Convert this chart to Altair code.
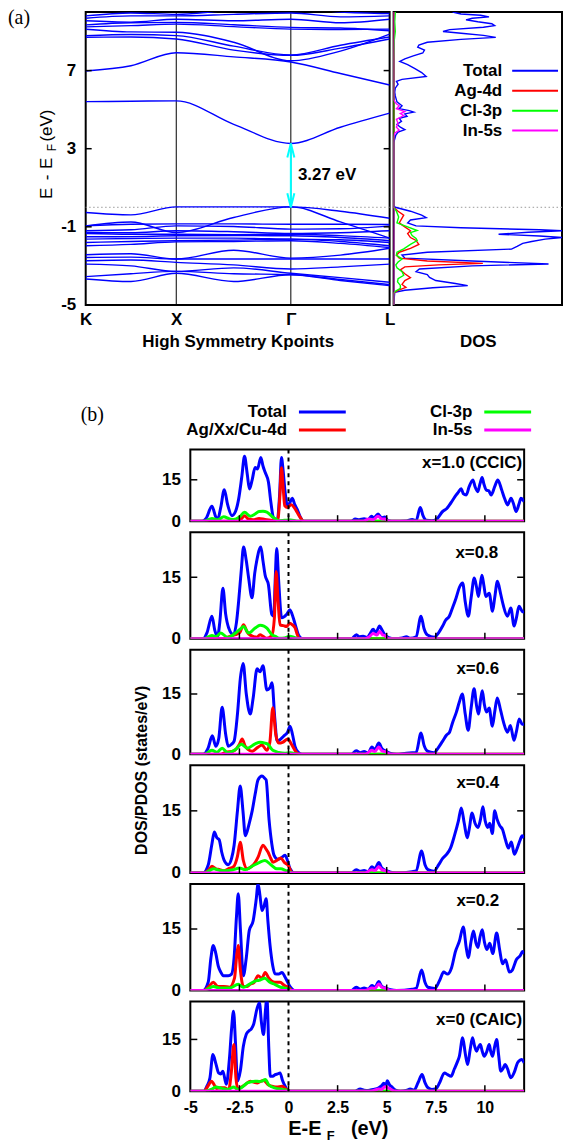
import altair as alt
import pandas as pd

# ---------------- styling ----------------
SANS = "Liberation Sans"
SERIF = "Liberation Serif"
BLUE = "#0000ff"
RED = "#ff0000"
GREEN = "#00ff00"
MAGENTA = "#ff00ff"
CYAN = "#00ffff"

# ---------------- (a) band structure ----------------
# sample positions along K-X-Gamma-L (high-symmetry points and segment midpoints)
KPATH = [0.0, 0.149, 0.298, 0.487, 0.675, 0.838, 1.0]
KPOINT_POS = [0.0, 0.298, 0.675, 1.0]
KPOINT_LABELS = ["K", "X", "Γ", "L"]
YTICKS_A = [7, 3, -1, -5]
GAP_EV = 3.27

CONDUCTION_BANDS = [
    [5.41, 5.43, 5.45, 4.25, 3.27, 4.10, 4.82],
    [6.98, 7.25, 7.91, 7.70, 7.44, 6.85, 6.26],
    [8.71, 8.72, 8.62, 8.05, 7.78, 8.15, 8.62],
    [8.79, 8.85, 8.79, 8.25, 7.80, 8.30, 8.72],
    [9.12, 8.98, 8.96, 8.45, 7.50, 8.00, 8.87],
    [9.24, 9.30, 9.38, 9.25, 9.12, 9.10, 9.12],
    [9.34, 9.45, 9.46, 9.35, 9.21, 9.18, 9.04],
    [9.55, 9.48, 9.63, 9.55, 9.63, 9.45, 9.63],
    [9.68, 9.80, 9.80, 9.88, 9.95, 9.75, 9.80],
    [9.80, 9.95, 9.88, 10.1, 10.2, 10.0, 9.92],
]
VALENCE_BANDS = [
    [-0.27, -0.39, 0.02, 0.02, 0.02, -0.20, -0.56],
    [-0.95, -0.75, -1.29, -0.52, 0.02, -0.75, -1.58],
    [-0.95, -0.87, -0.85, -0.85, -0.87, -0.87, -0.88],
    [-1.20, -1.15, -0.95, -0.98, -1.12, -1.10, -0.95],
    [-1.29, -1.30, -1.20, -1.25, -1.34, -1.30, -1.20],
    [-1.34, -1.38, -1.38, -1.40, -1.38, -1.45, -1.58],
    [-1.51, -1.50, -1.46, -1.45, -1.46, -1.55, -1.71],
    [-1.63, -1.60, -1.58, -1.58, -1.63, -1.66, -1.80],
    [-1.80, -1.75, -1.71, -1.68, -1.63, -1.75, -1.97],
    [-1.97, -1.90, -1.77, -1.75, -1.71, -1.85, -2.06],
    [-2.43, -2.38, -2.65, -2.20, -2.60, -2.45, -2.10],
    [-2.57, -2.55, -2.65, -2.65, -2.65, -2.65, -2.65],
    [-2.74, -2.70, -2.82, -2.95, -3.16, -3.05, -2.91],
    [-2.91, -3.00, -3.28, -3.10, -3.38, -3.60, -3.84],
    [-3.55, -3.40, -3.28, -3.40, -3.45, -3.70, -3.96],
    [-3.67, -3.80, -3.38, -3.80, -3.45, -3.75, -4.01],
]

# ---------------- (a) density of states: (energy, DOS) ----------------
DOS_A_TOTAL = [
    (10.0, 10.5), (9.9, 12.0), (9.83, 15.5), (9.75, 17.0), (9.68, 14.0), (9.6, 12.9),
    (9.5, 15.0), (9.4, 17.5), (9.3, 18.0), (9.22, 16.0), (9.1, 10.0), (9.0, 8.8),
    (8.9, 12.5), (8.8, 16.0), (8.7, 18.2), (8.6, 12.0), (8.45, 6.0), (8.3, 4.5),
    (8.2, 4.3), (8.05, 5.5), (7.9, 5.2), (7.75, 3.5), (7.6, 2.0), (7.47, 1.1),
    (7.3, 2.5), (7.1, 3.8), (6.9, 5.0), (6.7, 5.8), (6.55, 1.5), (6.45, 0.5),
    (6.3, 0.8), (6.1, 0.3), (5.9, 0.2), (5.7, 0.3), (5.4, 0.6), (5.2, 1.5),
    (5.05, 1.0), (4.95, 2.8), (4.87, 3.6), (4.78, 2.0), (4.66, 2.4), (4.55, 1.0),
    (4.4, 1.4), (4.25, 0.6), (4.1, 1.2), (3.98, 2.0), (3.85, 0.8), (3.7, 0.4),
    (3.5, 0.2), (3.3, 0.0), (0.1, 0.0), (0.0, 0.3), (-0.2, 3.0), (-0.4, 5.0),
    (-0.53, 5.8), (-0.65, 3.0), (-0.8, 2.5), (-0.95, 4.0), (-1.05, 12.0), (-1.15, 26.0),
    (-1.2, 30.0), (-1.28, 24.0), (-1.38, 18.7), (-1.47, 26.0), (-1.55, 30.0), (-1.63, 27.0),
    (-1.75, 24.6), (-1.85, 23.0), (-2.0, 22.0), (-2.14, 21.0), (-2.3, 6.0), (-2.45, 1.5),
    (-2.6, 2.0), (-2.75, 14.0), (-2.9, 27.6), (-3.0, 14.0), (-3.16, 4.6), (-3.3, 4.0),
    (-3.45, 6.0), (-3.59, 6.4), (-3.75, 7.5), (-3.9, 11.0), (-4.01, 13.2), (-4.12, 7.0),
    (-4.25, 2.0), (-4.35, 0.2), (-5.0, 0.0),
]
DOS_A_AG4D = [
    (10.0, 0.0), (0.0, 0.0), (-0.2, 0.8), (-0.4, 1.8), (-0.55, 1.5), (-0.8, 1.0),
    (-1.0, 2.0), (-1.2, 3.0), (-1.35, 2.5), (-1.55, 3.0), (-1.7, 4.0), (-1.9, 4.5),
    (-2.1, 3.0), (-2.3, 1.0), (-2.45, 0.5), (-2.6, 1.0), (-2.75, 6.0), (-2.87, 15.9),
    (-2.95, 8.0), (-3.05, 2.0), (-3.2, 1.2), (-3.4, 2.0), (-3.6, 3.0), (-3.75, 2.0),
    (-3.95, 1.5), (-4.1, 2.2), (-4.25, 0.8), (-4.4, 0.0), (-5.0, 0.0),
]
DOS_A_CL3P = [
    (10.0, 0.3), (9.5, 0.2), (9.0, 0.3), (8.5, 0.1), (7.5, 0.0), (0.0, 0.0),
    (-0.2, 0.5), (-0.5, 0.9), (-0.8, 0.6), (-1.0, 2.5), (-1.19, 4.2), (-1.3, 3.0),
    (-1.45, 3.3), (-1.6, 4.0), (-1.7, 4.2), (-1.9, 3.0), (-2.13, 1.8), (-2.3, 0.6),
    (-2.45, 0.5), (-2.65, 1.5), (-2.8, 0.8), (-2.95, 0.4), (-3.1, 0.6), (-3.3, 1.5),
    (-3.48, 1.8), (-3.65, 0.8), (-3.82, 0.7), (-4.0, 1.2), (-4.15, 1.2), (-4.3, 0.3),
    (-4.4, 0.0), (-5.0, 0.0),
]
DOS_A_IN5S = [
    (10.0, 0.0), (5.5, 0.0), (5.3, 0.5), (5.2, 1.0), (5.05, 0.5), (4.9, 2.0),
    (4.8, 1.2), (4.7, 1.8), (4.5, 0.5), (4.3, 0.8), (4.1, 0.5), (3.95, 1.0),
    (3.8, 0.2), (3.6, 0.0), (-5.0, 0.0),
]
LEGEND_A = ["Total", "Ag-4d", "Cl-3p", "In-5s"]

# ---------------- (b) projected DOS for each composition: (energy, states/eV) ----------------
PANEL_LABELS = ["x=1.0 (CCIC)", "x=0.8", "x=0.6", "x=0.4", "x=0.2", "x=0 (CAIC)"]
LEGEND_B = ["Total", "Ag/Xx/Cu-4d", "Cl-3p", "In-5s"]
XTICKS_B = [-5, -2.5, 0, 2.5, 5, 7.5, 10]
YTICKS_B = [0, 15]

TOTAL_X10 = [
    (-5, 0), (-4.4, 0), (-4.2, 1.0), (-3.9, 5.4), (-3.7, 1.5), (-3.6, 0.8), (-3.45, 5), (-3.27, 11.4),
    (-3.1, 6), (-2.88, 2.0), (-2.7, 3.5), (-2.54, 8.0), (-2.38, 16), (-2.24, 23.5), (-2.1, 17),
    (-1.99, 11.7), (-1.85, 15), (-1.70, 19.5), (-1.58, 18.9), (-1.41, 23.1), (-1.3, 20), (-1.19, 17.7),
    (-1.02, 14.1), (-0.9, 7), (-0.77, 1.4), (-0.57, 0.5), (-0.45, 10), (-0.36, 23.1), (-0.27, 18),
    (-0.19, 11.7), (-0.05, 5.5), (0.05, 6.5), (0.19, 8.3), (0.32, 6), (0.45, 4.2), (0.6, 1.5), (0.76, 0),
    (3.2, 0), (3.4, 0.8), (3.6, 0.5), (3.85, 0.9), (4.05, 0.5), (4.22, 1.8), (4.35, 1.2), (4.56, 2.6),
    (4.75, 1.2), (4.9, 1.5), (5.07, 0.2), (5.4, 0), (6.0, 0.1), (6.3, 0.6), (6.5, 0.2), (6.71, 5.0),
    (6.85, 2.0), (7.02, 0.3), (7.3, 0.2), (7.52, 0.6), (7.86, 3.6), (8.05, 4.5), (8.2, 5.9), (8.35, 7.5),
    (8.54, 9.5), (8.65, 10.5), (8.79, 11.8), (8.9, 10), (9.05, 9.5), (9.2, 12.5), (9.39, 14.9),
    (9.5, 12.5), (9.64, 10.7), (9.75, 13.5), (9.86, 15.8), (9.95, 13.5), (10.07, 11.3), (10.2, 11.0),
    (10.32, 9.5), (10.5, 12.5), (10.66, 14.9), (10.85, 11.5), (11.0, 8.3), (11.16, 5.9), (11.33, 8.3),
    (11.45, 6.5), (11.59, 3.5), (11.75, 6.5), (11.84, 8.3), (12.0, 7.1),
]
D4_X10 = [
    (-5, 0), (-2.6, 0), (-2.4, 0.8), (-2.24, 2.0), (-2.05, 0.8), (-1.8, 0.5), (-1.5, 1.0), (-1.2, 0.6),
    (-0.75, 0.2), (-0.55, 0.3), (-0.45, 8), (-0.36, 19.4), (-0.27, 12), (-0.19, 5.6), (-0.05, 5.0),
    (0.14, 6.0), (0.3, 4.8), (0.48, 2.7), (0.65, 0.8), (0.76, 0), (12, 0),
]
CL3P_X10 = [
    (-5, 0), (-4.3, 0), (-3.9, 1.0), (-3.6, 0.5), (-3.3, 1.6), (-3.0, 0.8), (-2.8, 0.6), (-2.5, 1.5),
    (-2.24, 3.2), (-1.95, 1.8), (-1.7, 2.6), (-1.5, 3.5), (-1.3, 3.6), (-1.1, 3.3), (-0.77, 1.3),
    (-0.5, 0.2), (-0.2, 0.3), (0.1, 0.4), (0.4, 0.1), (0.8, 0), (12, 0),
]
IN5S_X10 = [(-5, 0), (3.8, 0), (4.1, 0.8), (4.3, 0.5), (4.56, 1.8), (4.75, 0.8), (4.9, 0.8), (5.1, 0), (12, 0)]

TOTAL_X08 = [
    (-5, 0), (-4.35, 0), (-4.15, 1.5), (-3.90, 5.5), (-3.75, 2.0), (-3.61, 0.6), (-3.5, 4), (-3.34, 12.3),
    (-3.2, 6), (-3.05, 2.7), (-2.8, 1.0), (-2.65, 4), (-2.54, 9.1), (-2.4, 17), (-2.29, 22.4), (-2.15, 19),
    (-2.03, 14.8), (-1.86, 10), (-1.72, 16), (-1.61, 19.2), (-1.41, 22.4), (-1.3, 19), (-1.19, 15.5),
    (-1.02, 13.1), (-0.85, 5.9), (-0.75, 5.5), (-0.68, 14), (-0.60, 22.0), (-0.5, 14), (-0.35, 5.1),
    (-0.10, 5.9), (0.07, 7.1), (0.24, 5.1), (0.4, 2.5), (0.5, 1.0), (0.7, 0), (3.2, 0), (3.46, 1.0),
    (3.6, 0.5), (3.8, 0.6), (4.0, 0.3), (4.15, 1.2), (4.31, 2.3), (4.45, 1.5), (4.64, 3.1), (4.78, 2.0),
    (4.9, 1.0), (5.1, 0.3), (5.4, 0), (5.8, 0.2), (6.0, 0.5), (6.2, 0.1), (6.5, 0.5), (6.75, 5.5),
    (6.9, 2.5), (7.08, 0.9), (7.43, 0.4), (7.65, 1.5), (7.85, 3.1), (8.0, 4.5), (8.19, 5.5), (8.35, 7.5),
    (8.53, 9.9), (8.7, 12.5), (8.87, 13.6), (9.0, 9), (9.16, 5.5), (9.3, 10), (9.46, 14.8), (9.58, 12.5),
    (9.67, 10.3), (9.76, 13), (9.85, 15.5), (9.95, 13), (10.05, 10.3), (10.22, 11.1), (10.39, 6.7),
    (10.5, 10), (10.64, 14.0), (10.8, 11), (10.93, 8.3), (11.15, 5.5), (11.32, 7.5), (11.49, 3.1),
    (11.6, 5), (11.74, 7.9), (11.9, 6.7), (12.0, 6.5),
]
D4_X08 = [
    (-5, 0), (-3.3, 0), (-3.0, 0.6), (-2.7, 1.0), (-2.47, 1.6), (-2.29, 3.4), (-2.1, 1.6), (-2.03, 1.2),
    (-1.8, 0.6), (-1.61, 0.4), (-1.45, 1.0), (-1.3, 0.6), (-1.1, 0.1), (-0.85, 0.8), (-0.72, 5),
    (-0.63, 16.4), (-0.53, 9), (-0.43, 3.4), (-0.25, 3.2), (-0.1, 3.0), (0.07, 3.8), (0.2, 3.4),
    (0.33, 2.7), (0.45, 1.0), (0.55, 0), (12, 0),
]
CL3P_X08 = [
    (-5, 0), (-4.3, 0), (-3.9, 0.8), (-3.7, 0.5), (-3.45, 1.4), (-3.1, 0.3), (-2.7, 1.4), (-2.45, 2.4),
    (-2.29, 3.0), (-2.03, 1.4), (-1.7, 2.6), (-1.45, 3.3), (-1.25, 3.1), (-1.1, 2.6), (-0.85, 1.0),
    (-0.67, 0.6), (-0.45, 0.1), (-0.2, 0.2), (0.07, 0.6), (0.3, 0.3), (0.6, 0), (12, 0),
]
IN5S_X08 = [(-5, 0), (3.9, 0), (4.1, 0.4), (4.31, 1.3), (4.5, 0.9), (4.64, 1.8), (4.78, 1.0), (4.9, 0.8), (5.1, 0), (12, 0)]

TOTAL_X06 = [
    (-5, 0), (-4.35, 0), (-4.1, 1.5), (-3.88, 4.6), (-3.7, 2), (-3.55, 4), (-3.38, 11.7), (-3.2, 5),
    (-3.07, 2.0), (-2.9, 2.5), (-2.77, 3.3), (-2.6, 10), (-2.45, 19), (-2.31, 22.6), (-2.15, 15),
    (-1.95, 10), (-1.8, 14), (-1.6, 21.3), (-1.45, 20.5), (-1.3, 22), (-1.1, 16), (-0.95, 16.5),
    (-0.84, 17.8), (-0.7, 9), (-0.58, 3.3), (-0.4, 3.8), (-0.23, 4.6), (-0.05, 5.5), (0.08, 7), (0.2, 5),
    (0.33, 2.0), (0.5, 0.5), (0.7, 0), (3.2, 0), (3.45, 0.9), (3.65, 0.4), (3.85, 0.7), (4.05, 0.3),
    (4.25, 1.8), (4.4, 1.2), (4.6, 2.8), (4.75, 1.5), (4.95, 0.8), (5.2, 0.2), (5.5, 0), (6.0, 0.3),
    (6.3, 0.4), (6.5, 0.5), (6.75, 5.3), (6.9, 2.3), (7.08, 0.8), (7.4, 0.4), (7.65, 1.8), (7.85, 3.3),
    (8.05, 4.8), (8.2, 5.5), (8.35, 7.8), (8.55, 10.5), (8.7, 13), (8.85, 15.0), (9.0, 10), (9.15, 6),
    (9.3, 11.5), (9.45, 16.3), (9.58, 12), (9.68, 10), (9.78, 13.5), (9.87, 15.8), (9.97, 12.5),
    (10.08, 10.5), (10.22, 11.5), (10.38, 7), (10.5, 10.5), (10.63, 14), (10.8, 11), (10.95, 8),
    (11.15, 5.5), (11.3, 7.2), (11.48, 3.5), (11.6, 5.5), (11.75, 8.8), (11.9, 7.5), (12.0, 7.5),
]
D4_X06 = [
    (-5, 0), (-3.5, 0), (-3.2, 0.5), (-2.8, 0.8), (-2.5, 2.5), (-2.36, 3.8), (-2.2, 2.0), (-1.85, 0.8),
    (-1.55, 1.8), (-1.35, 2.3), (-1.1, 1.0), (-0.95, 3), (-0.8, 11.6), (-0.65, 5), (-0.5, 2.8),
    (-0.3, 3.0), (-0.03, 3.8), (0.15, 2.5), (0.4, 0.5), (0.55, 0), (12, 0),
]
CL3P_X06 = [
    (-5, 0), (-4.3, 0), (-3.9, 1.0), (-3.65, 0.5), (-3.38, 1.5), (-3.1, 0.4), (-2.7, 1.2), (-2.4, 2.5),
    (-2.1, 1.5), (-1.7, 2.6), (-1.45, 3.0), (-1.2, 2.8), (-1.05, 2.5), (-0.8, 1.0), (-0.5, 0.5),
    (-0.2, 0.3), (0.1, 0.4), (0.4, 0.1), (0.6, 0), (12, 0),
]
IN5S_X06 = [(-5, 0), (3.9, 0), (4.25, 1.0), (4.4, 0.7), (4.6, 1.8), (4.75, 0.9), (4.95, 0.6), (5.2, 0), (12, 0)]

TOTAL_X04 = [
    (-5, 0), (-4.35, 0), (-4.09, 1.9), (-3.9, 7), (-3.78, 9.9), (-3.65, 8.5), (-3.53, 8), (-3.4, 5),
    (-3.27, 3), (-3.07, 2), (-2.9, 3.5), (-2.77, 6.7), (-2.6, 15), (-2.46, 21), (-2.32, 15), (-2.2, 9),
    (-2.0, 12), (-1.85, 15), (-1.7, 19), (-1.55, 22.5), (-1.35, 23.4), (-1.2, 22.8), (-1.14, 22.5),
    (-0.99, 12.8), (-0.85, 7), (-0.74, 4.3), (-0.55, 3.3), (-0.38, 3.6), (-0.18, 4.3), (-0.05, 3),
    (0.08, 1.0), (0.3, 0), (3.2, 0), (3.45, 0.8), (3.65, 0.4), (3.85, 0.6), (4.05, 0.3), (4.25, 1.5),
    (4.4, 1.0), (4.6, 2.5), (4.75, 1.2), (4.95, 0.6), (5.2, 0.2), (5.5, 0), (6.3, 0.3), (6.5, 0.5),
    (6.78, 5.3), (6.95, 2.0), (7.1, 0.8), (7.4, 0.4), (7.65, 2.0), (7.85, 3.5), (8.05, 4.5), (8.25, 6.0),
    (8.45, 9), (8.65, 12.5), (8.8, 15.7), (8.95, 12), (9.1, 8.5), (9.2, 10.5), (9.35, 14.5), (9.5, 12),
    (9.65, 11), (9.78, 13), (9.9, 16), (10.02, 12.5), (10.15, 11), (10.25, 12), (10.38, 9.5),
    (10.5, 15), (10.62, 13), (10.75, 11.5), (10.9, 10.5), (11.05, 8), (11.2, 6), (11.35, 7.5),
    (11.5, 4.5), (11.65, 6), (11.8, 8), (11.9, 9), (12.0, 8.5),
]
D4_X04 = [
    (-5, 0), (-4.3, 0), (-4.05, 0.8), (-3.9, 1.6), (-3.7, 1.0), (-3.5, 0.8), (-3.3, 0.5), (-3.07, 1.0),
    (-2.8, 1.5), (-2.6, 4), (-2.46, 7.4), (-2.3, 3), (-2.1, 1.0), (-1.9, 1.5), (-1.7, 2.5), (-1.55, 3.8),
    (-1.3, 6.7), (-1.15, 5.8), (-1.04, 5.0), (-0.9, 3.5), (-0.79, 2.6), (-0.6, 3.0), (-0.4, 3.6),
    (-0.2, 2.5), (-0.03, 1.9), (0.2, 0), (12, 0),
]
CL3P_X04 = [
    (-5, 0), (-4.3, 0), (-3.8, 1.0), (-3.5, 0.6), (-3.2, 0.5), (-2.8, 0.8), (-2.5, 1.2), (-2.2, 0.8),
    (-1.9, 1.5), (-1.5, 2.5), (-1.2, 3.0), (-0.9, 2.0), (-0.6, 1.0), (-0.4, 1.0), (-0.1, 0.5), (0.2, 0), (12, 0),
]
IN5S_X04 = [(-5, 0), (3.9, 0), (4.25, 0.8), (4.4, 0.6), (4.6, 1.5), (4.75, 0.8), (4.95, 0.5), (5.2, 0), (12, 0)]

TOTAL_X02 = [
    (-5, 0), (-4.35, 0), (-4.09, 2), (-3.95, 8), (-3.83, 11), (-3.7, 9), (-3.58, 6), (-3.45, 4.5),
    (-3.32, 3.6), (-3.07, 3.6), (-2.9, 4), (-2.77, 8), (-2.65, 18), (-2.56, 23.6), (-2.45, 15), (-2.3, 3.6),
    (-2.15, 8), (-2.0, 14.6), (-1.8, 17), (-1.65, 22), (-1.55, 26), (-1.45, 23), (-1.35, 19.5),
    (-1.25, 20.5), (-1.14, 22.4), (-1.05, 17), (-0.94, 11), (-0.8, 6), (-0.69, 4.1), (-0.5, 4.0),
    (-0.33, 4.4), (-0.2, 3.5), (-0.08, 2.4), (0.1, 0.8), (0.3, 0), (3.2, 0), (3.45, 0.8), (3.65, 0.3),
    (3.85, 0.6), (4.05, 0.3), (4.25, 1.2), (4.4, 0.8), (4.6, 2.2), (4.75, 1.0), (4.95, 0.6), (5.2, 0.2),
    (5.5, 0), (6.3, 0.3), (6.5, 0.5), (6.78, 5.0), (6.95, 2.0), (7.1, 0.8), (7.45, 0.5), (7.7, 2.5),
    (7.9, 4.5), (8.1, 4.0), (8.3, 5.5), (8.5, 9.5), (8.7, 12), (8.9, 15.5), (9.05, 10.5), (9.15, 8),
    (9.3, 12), (9.42, 14.5), (9.55, 11.5), (9.65, 10.5), (9.75, 13), (9.87, 14.8), (9.97, 12),
    (10.1, 10), (10.25, 11.5), (10.4, 9), (10.6, 14), (10.75, 10), (10.9, 6.5), (11.05, 7.5),
    (11.25, 4.5), (11.4, 5), (11.6, 7.5), (11.8, 8.5), (11.92, 9.5), (12.0, 9),
]
D4_X02 = [
    (-5, 0), (-4.3, 0), (-4.05, 1.0), (-3.83, 2.0), (-3.6, 1.0), (-3.3, 1.0), (-3.0, 0.8), (-2.75, 3),
    (-2.65, 8), (-2.56, 11), (-2.45, 5), (-2.3, 1.0), (-2.1, 1.0), (-1.96, 1.5), (-1.75, 2.0),
    (-1.55, 3.6), (-1.35, 3.0), (-1.19, 4.4), (-1.0, 3.0), (-0.7, 2.0), (-0.43, 2.0), (-0.2, 1.2),
    (0.0, 0.8), (0.2, 0), (12, 0),
]
CL3P_X02 = [
    (-5, 0), (-4.3, 0), (-3.83, 1.0), (-3.5, 0.6), (-3.0, 0.6), (-2.56, 1.5), (-2.3, 0.8), (-2.0, 1.5),
    (-1.7, 2.3), (-1.5, 2.5), (-1.2, 3.0), (-0.95, 2.0), (-0.7, 1.5), (-0.4, 0.8), (-0.1, 0.5), (0.2, 0), (12, 0),
]
IN5S_X02 = [(-5, 0), (3.9, 0), (4.25, 0.6), (4.4, 0.5), (4.6, 1.6), (4.75, 0.8), (4.95, 0.5), (5.2, 0), (12, 0)]

TOTAL_X00 = [
    (-5, 0), (-4.32, 0), (-4.15, 1.5), (-4.0, 3.9), (-3.85, 10.6), (-3.7, 8), (-3.56, 5.3), (-3.45, 5),
    (-3.34, 5.8), (-3.17, 2.0), (-3.0, 10), (-2.9, 18), (-2.80, 23.2), (-2.7, 14), (-2.60, 2.9),
    (-2.45, 6), (-2.3, 13), (-2.15, 16.5), (-2.03, 17.4), (-1.9, 18), (-1.78, 19.3), (-1.6, 24),
    (-1.48, 25.6), (-1.38, 20), (-1.27, 16.4), (-1.18, 23), (-1.10, 27), (-1.0, 12), (-0.93, 4.3),
    (-0.8, 4.3), (-0.68, 4.8), (-0.55, 5.0), (-0.43, 5.3), (-0.3, 3), (-0.17, 1.4), (0.0, 0), (3.4, 0),
    (3.65, 0.6), (3.85, 0.3), (4.05, 0.2), (4.3, 0.5), (4.6, 1.0), (4.75, 1.6), (4.85, 2.3), (4.95, 1.5),
    (5.03, 3.0), (5.15, 1.8), (5.25, 1.3), (5.45, 0.3), (5.7, 0), (6.0, 0.2), (6.2, 0.6), (6.4, 0.3),
    (6.6, 2.5), (6.8, 4.8), (6.95, 2.5), (7.1, 1.0), (7.3, 0.5), (7.5, 0.7), (7.7, 2.5), (7.94, 5.3),
    (8.1, 4.8), (8.28, 4.3), (8.45, 6.5), (8.6, 8.5), (8.7, 10.1), (8.87, 15.5), (9.0, 11), (9.12, 7.7),
    (9.25, 12), (9.37, 15.5), (9.48, 13), (9.58, 11.6), (9.68, 12.8), (9.77, 13.5), (9.87, 11.5),
    (9.97, 10.1), (10.1, 11.5), (10.22, 13.5), (10.3, 11.5), (10.39, 10.1), (10.5, 13), (10.6, 15),
    (10.7, 10.5), (10.81, 5.8), (10.92, 6.5), (11.03, 7.7), (11.15, 6.5), (11.32, 3.9), (11.5, 5.5),
    (11.66, 8.2), (11.8, 9.0), (11.88, 9.2), (12.0, 8.2),
]
D4_X00 = [
    (-5, 0), (-4.3, 0), (-4.1, 1.5), (-3.92, 2.9), (-3.75, 1.5), (-3.66, 0.8), (-3.45, 1.0), (-3.24, 1.0),
    (-3.05, 0.3), (-2.92, 5), (-2.78, 13.5), (-2.68, 4), (-2.58, 0.6), (-2.4, 1.2), (-2.25, 1.7),
    (-1.95, 2.9), (-1.75, 2.6), (-1.6, 2.4), (-1.45, 2.8), (-1.27, 3.1), (-1.0, 1.7), (-0.75, 1.3),
    (-0.6, 1.2), (-0.33, 1.4), (-0.1, 0.5), (0.05, 0), (12, 0),
]
CL3P_X00 = [
    (-5, 0), (-4.3, 0), (-3.9, 0.6), (-3.7, 1.2), (-3.4, 0.8), (-3.1, 0.5), (-2.78, 1.2), (-2.6, 0.5),
    (-2.35, 1.2), (-2.1, 2.4), (-1.7, 2.9), (-1.5, 2.8), (-1.35, 2.9), (-1.18, 3.4), (-1.0, 1.8),
    (-0.68, 0.9), (-0.33, 0.5), (-0.05, 0.2), (0.1, 0), (12, 0),
]
IN5S_X00 = [(-5, 0), (4.2, 0), (4.45, 0.4), (4.6, 0.6), (4.75, 0.5), (4.9, 1.3), (5.05, 1.0), (5.2, 0.6), (5.4, 0), (12, 0)]

PANEL_SERIES = [
    (TOTAL_X10, D4_X10, CL3P_X10, IN5S_X10),
    (TOTAL_X08, D4_X08, CL3P_X08, IN5S_X08),
    (TOTAL_X06, D4_X06, CL3P_X06, IN5S_X06),
    (TOTAL_X04, D4_X04, CL3P_X04, IN5S_X04),
    (TOTAL_X02, D4_X02, CL3P_X02, IN5S_X02),
    (TOTAL_X00, D4_X00, CL3P_X00, IN5S_X00),
]
SERIES_COLORS = [BLUE, RED, GREEN, MAGENTA]

# ---------------- layout (pixels) ----------------
BAND_W, BAND_H, DOSA_W = 305, 294, 169
PANEL_W = 335
PANEL_H = [72, 107, 105, 108, 107, 90]
PANEL_SHIFT = 105          # horizontal offset of the (b) panels from the band plot
# right edge / vertical centre of each composition label, relative to its panel
PANEL_LABEL_POS = [(333, 14), (309, 21), (310, 19), (310, 18), (310, 17), (333, 19)]


def txt(label, x, y, size=17, weight="bold", font=SANS, align="center", angle=0):
    return alt.Chart(pd.DataFrame({"label": [label]})).mark_text(
        font=font, fontSize=size, fontWeight=weight, align=align,
        baseline="middle", angle=angle, color="black",
    ).encode(x=alt.value(x), y=alt.value(y), text="label:N")


def seg(x0, x1, y, color, width):
    return alt.Chart(pd.DataFrame({"v": [0]})).mark_rule(
        color=color, strokeWidth=width
    ).encode(x=alt.value(x0), x2=alt.value(x1), y=alt.value(y))


# ================= (a) band structure panel =================
band_df = pd.DataFrame(
    [{"band": i, "k": k, "E": e}
     for i, row in enumerate(CONDUCTION_BANDS + VALENCE_BANDS)
     for k, e in zip(KPATH, row)]
)
k_label_expr = " : ".join(
    f"datum.value == {p} ? '{n}'" for p, n in zip(KPOINT_POS, KPOINT_LABELS)
) + " : ''"

x_k = alt.X(
    "k:Q",
    scale=alt.Scale(domain=[0, 1], nice=False, zero=False),
    axis=alt.Axis(
        values=KPOINT_POS, labelExpr=k_label_expr, labelFont=SANS, labelFontSize=17,
        labelFontWeight="bold", labelColor="black", labelPadding=7, labelFlush=False,
        labelOverlap=False, ticks=False, domain=False, grid=False,
        title="High Symmetry Kpoints", titleFont=SANS, titleFontSize=17,
        titleFontWeight="bold", titleColor="black", titleY=37, titleBaseline="middle",
    ),
)
y_e = alt.Y(
    "E:Q",
    scale=alt.Scale(domain=[-5, 10], nice=False, zero=False),
    axis=alt.Axis(
        values=YTICKS_A, labelExpr="datum.value + ''", labelFont=SANS, labelFontSize=17,
        labelFontWeight="bold", labelColor="black", labelPadding=10, ticks=False,
        domain=False, grid=False, title=None, minExtent=78,
    ),
)

bands = alt.Chart(band_df).mark_line(
    color=BLUE, strokeWidth=1.4, interpolate="monotone", clip=True
).encode(x=x_k, y=y_e, detail="band:N")

klines = alt.Chart(pd.DataFrame({"k": KPOINT_POS[1:3]})).mark_rule(
    color="black", strokeWidth=1
).encode(x=x_k)

fermi_a = alt.Chart(pd.DataFrame({"E": [0.0]})).mark_rule(
    color="#9a9a9a", strokeWidth=1, strokeDash=[1.5, 2.5]
).encode(y=y_e)

gap_df = pd.DataFrame({"k": [KPOINT_POS[2]], "E": [0.0], "E1": [GAP_EV]})
arrow_shaft = alt.Chart(gap_df).mark_rule(color=CYAN, strokeWidth=2).encode(
    x=x_k, y=y_e, y2="E1:Q"
)
arrow_up = alt.Chart(gap_df).mark_point(
    shape="M-0.5,2L0,0L0.5,2", filled=False, color=CYAN, strokeWidth=2, size=200, opacity=1
).encode(x=x_k, y=alt.Y("E1:Q"))
arrow_down = alt.Chart(gap_df).mark_point(
    shape="M-0.5,-2L0,0L0.5,-2", filled=False, color=CYAN, strokeWidth=2, size=200, opacity=1
).encode(x=x_k, y=y_e)
gap_label = txt(f"{GAP_EV:.2f} eV", 213, 164, align="left")

band_ticks_l = alt.Chart(pd.DataFrame({"E": YTICKS_A[:3]})).mark_rule(
    color="black", strokeWidth=1.5
).encode(y=y_e, x=alt.value(0), x2=alt.value(6))
band_ticks_r = alt.Chart(pd.DataFrame({"E": YTICKS_A[:3]})).mark_rule(
    color="black", strokeWidth=1.5
).encode(y=y_e, x=alt.value(BAND_W - 6), x2=alt.value(BAND_W))

tag_a = txt("(a)", -78, 6, size=20, weight="normal", font=SERIF, align="left")
# rotated axis title "E - E_F (eV)", assembled piece by piece for the subscript
ytitle_a = [
    txt("E", -39, 182, weight="normal", angle=270),
    txt("-", -39, 166, weight="normal", angle=270),
    txt("E", -39, 152, weight="normal", angle=270),
    txt("F", -34, 136, size=12, weight="normal", angle=270),
    txt("(eV)", -39, 114, weight="normal", angle=270),
]

band_chart = alt.layer(
    fermi_a, klines, bands, band_ticks_l, band_ticks_r,
    arrow_shaft, arrow_up, arrow_down, gap_label, tag_a, *ytitle_a,
).properties(width=BAND_W, height=BAND_H)

# ================= (a) DOS panel =================
x_d = alt.X(
    "D:Q",
    scale=alt.Scale(domain=[0, 30], nice=False, zero=True),
    axis=alt.Axis(
        labels=False, ticks=False, domain=False, grid=False, title="DOS",
        titleFont=SANS, titleFontSize=17, titleFontWeight="bold", titleColor="black",
        titleY=37, titleBaseline="middle",
    ),
)
y_d = alt.Y("E:Q", scale=alt.Scale(domain=[-5, 10], nice=False, zero=False), axis=None)


def dos_a_line(pairs, color):
    df = pd.DataFrame(pairs, columns=["E", "D"])
    return alt.Chart(df).mark_line(color=color, strokeWidth=1.4, clip=True).encode(
        x=x_d, y=y_d, order="E:Q"
    )


fermi_d = alt.Chart(pd.DataFrame({"E": [0.0]})).mark_rule(
    color="#9a9a9a", strokeWidth=1, strokeDash=[1.5, 2.5]
).encode(y=y_d)

legend_a = []
for i, (name, color) in enumerate(zip(LEGEND_A, SERIES_COLORS)):
    legend_a.append(txt(name, 109, 59 + 20 * i, align="right"))
    legend_a.append(seg(119, 165, 59 + 20 * i, color, 2))

dos_chart = alt.layer(
    fermi_d,
    dos_a_line(DOS_A_TOTAL, BLUE),
    dos_a_line(DOS_A_AG4D, RED),
    dos_a_line(DOS_A_CL3P, GREEN),
    dos_a_line(DOS_A_IN5S, MAGENTA),
    *legend_a,
).properties(width=DOSA_W, height=BAND_H)


# ================= (b) stacked PDOS panels =================
def pdos_panel(i):
    h = PANEL_H[i]
    last = i == len(PANEL_H) - 1
    x_axis = alt.Axis(
        values=XTICKS_B, labelExpr="datum.value + ''", labelFont=SANS, labelFontSize=16,
        labelFontWeight="bold", labelColor="black", labelPadding=8, labelFlush=False,
        labelOverlap=False, ticks=False, domain=False, grid=False, title=None,
    ) if last else None
    x = alt.X("E:Q", scale=alt.Scale(domain=[-5, 12], nice=False, zero=False), axis=x_axis)
    y = alt.Y(
        "V:Q",
        scale=alt.Scale(domain=[0, 26], nice=False, zero=True),
        axis=alt.Axis(
            values=YTICKS_B, labelFont=SANS, labelFontSize=17, labelFontWeight="bold",
            labelColor="black", labelPadding=10, ticks=False, domain=False, grid=False,
            title=None, minExtent=183,
        ),
    )
    layers = []
    for pairs, color in zip(PANEL_SERIES[i], SERIES_COLORS):
        df = pd.DataFrame(pairs, columns=["E", "V"])
        layers.append(
            alt.Chart(df).mark_line(
                color=color, strokeWidth=3, interpolate="monotone", clip=True
            ).encode(x=x, y=y)
        )
    layers.append(
        alt.Chart(pd.DataFrame({"E": [0.0]})).mark_rule(
            color="black", strokeWidth=2, strokeDash=[4, 4]
        ).encode(x=x)
    )
    layers.append(
        alt.Chart(pd.DataFrame({"E": XTICKS_B[1:]})).mark_rule(
            color="black", strokeWidth=1.5
        ).encode(x=x, y=alt.value(h), y2=alt.value(h - 6))
    )
    for x0, x1 in [(0, 7), (PANEL_W - 7, PANEL_W)]:
        layers.append(
            alt.Chart(pd.DataFrame({"V": YTICKS_B[1:]})).mark_rule(
                color="black", strokeWidth=1.5
            ).encode(y=y, x=alt.value(x0), x2=alt.value(x1))
        )
    lx, ly = PANEL_LABEL_POS[i]
    layers.append(txt(PANEL_LABELS[i], lx, ly, align="right"))

    if i == 0:
        layers.append(txt("(b)", -110, -35, size=20, weight="normal", font=SERIF, align="left"))
        for j, (name, color) in enumerate(zip(LEGEND_B, SERIES_COLORS)):
            col, row = divmod(j, 2)
            ty = -37.5 + 18 * row
            tx = 97 + 186 * col
            layers.append(txt(name, tx, ty, align="right"))
            layers.append(seg(tx + 12, tx + 59, ty, color, 3))
    if i == 3:
        layers.append(txt("DOS/PDOS (states/eV)", -48, 5, size=16, angle=270))
    if last:
        # x-axis title "E-E_F (eV)" with a subscript F
        layers.append(txt("E-E", 115, 128, size=20))
        layers.append(txt("F", 141, 135, size=13))
        layers.append(txt("(eV)", 180, 128, size=20))
    return alt.layer(*layers).properties(width=PANEL_W, height=h)


# an empty, unstroked strip pushes the (b) column to the right of the band plot
spacer = alt.Chart(pd.DataFrame({"v": [0]})).mark_point(opacity=0).properties(
    width=PANEL_SHIFT, height=1, view=alt.ViewBackground(stroke="transparent")
)

top_row = alt.hconcat(band_chart, dos_chart, spacing=4, bounds="flush")
panels = alt.vconcat(*[pdos_panel(i) for i in range(len(PANEL_H))], spacing=11, bounds="flush")
bottom = alt.hconcat(spacer, panels, spacing=0, bounds="flush")

chart = alt.vconcat(top_row, bottom, spacing=51).properties(
    padding={"left": 7, "top": 5, "right": 0, "bottom": 0},
    background="white",
).configure_view(stroke="black", strokeWidth=2)

chart.save("out.html", embed_options={"renderer": "svg", "actions": False})
